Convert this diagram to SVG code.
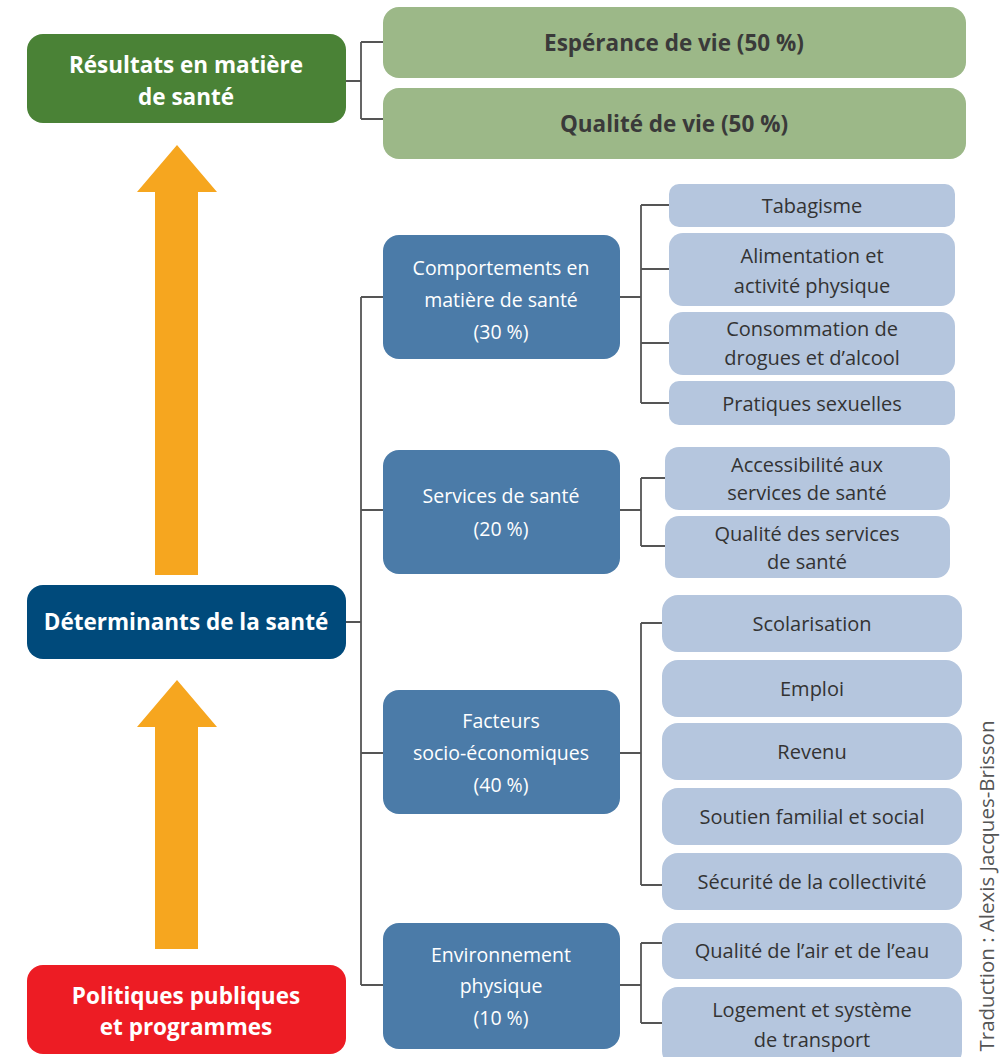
<svg xmlns="http://www.w3.org/2000/svg" width="1000" height="1057" viewBox="0 0 1000 1057">
<style>
.t{font-family:"Open Sans","Noto Sans",sans-serif;text-anchor:middle;dominant-baseline:central}
.title{font-weight:bold;font-size:22.5px;fill:#ffffff}
.gt{font-weight:bold;font-size:22.5px;fill:#3a3a3a}
.mt{font-size:19.5px;fill:#ffffff}
.lt{font-size:20px;fill:#333333}
.green{fill:#4a8236}
.navy{fill:#004a7b}
.red{fill:#ed1c24}
.lg{fill:#9cb888}
.mb{fill:#4b7ba8}
.lb{fill:#b5c6de}
.arrow{fill:#f6a61f}
.conn{fill:none;stroke:#555555;stroke-width:1.8}
</style>
<rect width="1000" height="1057" fill="#ffffff"/>
<g id="arrows">
<polygon class="arrow" points="137,192 177,145 217,192 198,192 198,575 155,575 155,192"/>
<polygon class="arrow" points="137,727 177,680 217,727 198,727 198,949 155,949 155,727"/>
</g>
<g id="connectors">
<path class="conn" d="M338,81 H361 M361,42 V119 M361,42 H383 M361,119 H383"/>
<path class="conn" d="M338,622 H361 M361,297 V985 M361,297 H383 M361,510 H383 M361,753 H383 M361,985 H383"/>
<path class="conn" d="M620,297 H641 M641,205 V403 M641,205 H669 M641,269 H669 M641,343 H669 M641,403 H669"/>
<path class="conn" d="M620,510 H641 M641,478 V546 M641,478 H665 M641,546 H665"/>
<path class="conn" d="M620,753 H641 M641,623 V885 M641,623 H662 M641,885 H662"/>
<path class="conn" d="M620,985 H641 M641,943 V1023 M641,943 H662 M641,1023 H662"/>
</g>
<g id="n-resultats">
<rect class="green" x="27" y="34" width="319" height="89" rx="16"/>
<text class="t title" x="186" y="64">Résultats en matière</text>
<text class="t title" x="186" y="96">de santé</text>
</g>
<g id="n-determinants">
<rect class="navy" x="27" y="585" width="319" height="74" rx="16"/>
<text class="t title" x="186" y="621">Déterminants de la santé</text>
</g>
<g id="n-politiques">
<rect class="red" x="27" y="965" width="319" height="89" rx="16"/>
<text class="t title" x="186" y="995">Politiques publiques</text>
<text class="t title" x="186" y="1026">et programmes</text>
</g>
<g id="n-esperance">
<rect class="lg" x="383" y="7" width="583" height="71" rx="16"/>
<text class="t gt" x="674" y="42">Espérance de vie (50 %)</text>
</g>
<g id="n-qualite-vie">
<rect class="lg" x="383" y="88" width="583" height="71" rx="16"/>
<text class="t gt" x="674" y="123">Qualité de vie (50 %)</text>
</g>
<g id="n-comportements">
<rect class="mb" x="383" y="235" width="237" height="124" rx="16"/>
<text class="t mt" x="501" y="267">Comportements en</text>
<text class="t mt" x="501" y="299">matière de santé</text>
<text class="t mt" x="501" y="331">(30 %)</text>
</g>
<g id="n-services">
<rect class="mb" x="383" y="450" width="237" height="124" rx="16"/>
<text class="t mt" x="501" y="495">Services de santé</text>
<text class="t mt" x="501" y="528">(20 %)</text>
</g>
<g id="n-facteurs">
<rect class="mb" x="383" y="690" width="237" height="124" rx="16"/>
<text class="t mt" x="501" y="720">Facteurs</text>
<text class="t mt" x="501" y="752">socio-économiques</text>
<text class="t mt" x="501" y="784">(40 %)</text>
</g>
<g id="n-environnement">
<rect class="mb" x="383" y="923" width="237" height="126" rx="16"/>
<text class="t mt" x="501" y="954">Environnement</text>
<text class="t mt" x="501" y="985">physique</text>
<text class="t mt" x="501" y="1017">(10 %)</text>
</g>
<g id="n-tabagisme">
<rect class="lb" x="669" y="184" width="286" height="43" rx="10"/>
<text class="t lt" x="812" y="205">Tabagisme</text>
</g>
<g id="n-alimentation">
<rect class="lb" x="669" y="233" width="286" height="73" rx="14"/>
<text class="t lt" x="812" y="255">Alimentation et</text>
<text class="t lt" x="812" y="285">activité physique</text>
</g>
<g id="n-consommation">
<rect class="lb" x="669" y="312" width="286" height="63" rx="14"/>
<text class="t lt" x="812" y="328">Consommation de</text>
<text class="t lt" x="812" y="357">drogues et d’alcool</text>
</g>
<g id="n-pratiques">
<rect class="lb" x="669" y="381" width="286" height="44" rx="10"/>
<text class="t lt" x="812" y="403">Pratiques sexuelles</text>
</g>
<g id="n-accessibilite">
<rect class="lb" x="665" y="447" width="285" height="63" rx="14"/>
<text class="t lt" x="807" y="464">Accessibilité aux</text>
<text class="t lt" x="807" y="492">services de santé</text>
</g>
<g id="n-qualite-services">
<rect class="lb" x="665" y="516" width="285" height="62" rx="14"/>
<text class="t lt" x="807" y="533">Qualité des services</text>
<text class="t lt" x="807" y="561">de santé</text>
</g>
<g id="n-scolarisation">
<rect class="lb" x="662" y="595" width="300" height="57" rx="16"/>
<text class="t lt" x="812" y="623">Scolarisation</text>
</g>
<g id="n-emploi">
<rect class="lb" x="662" y="660" width="300" height="57" rx="16"/>
<text class="t lt" x="812" y="688">Emploi</text>
</g>
<g id="n-revenu">
<rect class="lb" x="662" y="723" width="300" height="57" rx="16"/>
<text class="t lt" x="812" y="751">Revenu</text>
</g>
<g id="n-soutien">
<rect class="lb" x="662" y="788" width="300" height="57" rx="16"/>
<text class="t lt" x="812" y="816">Soutien familial et social</text>
</g>
<g id="n-securite">
<rect class="lb" x="662" y="853" width="300" height="57" rx="16"/>
<text class="t lt" x="812" y="881">Sécurité de la collectivité</text>
</g>
<g id="n-air">
<rect class="lb" x="662" y="923" width="300" height="56" rx="16"/>
<text class="t lt" x="812" y="950">Qualité de l’air et de l’eau</text>
</g>
<g id="n-logement">
<rect class="lb" x="662" y="987" width="300" height="80" rx="16"/>
<text class="t lt" x="812" y="1009">Logement et système</text>
<text class="t lt" x="812" y="1039">de transport</text>
</g>
<text class="t" x="986" y="886" transform="rotate(-90 986 886)" style="font-size:20.5px;fill:#555555">Traduction : Alexis Jacques-Brisson</text>
</svg>
